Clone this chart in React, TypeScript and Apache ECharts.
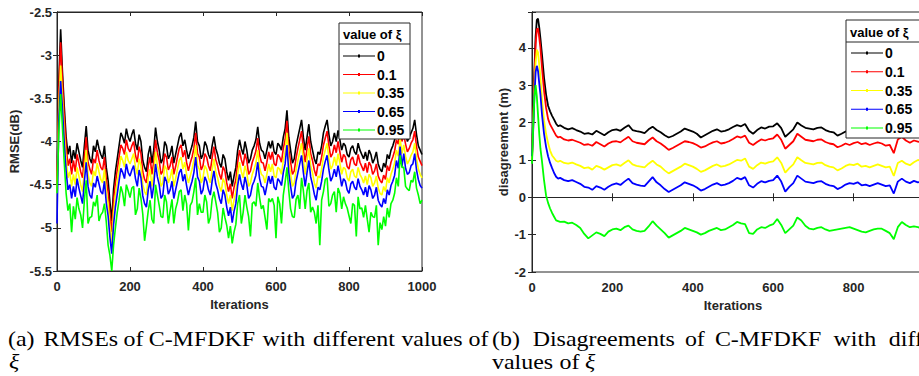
import React, { useEffect, useRef } from "react";
import * as echarts from "echarts";

// ---------- data ----------
const SERIES_NAMES = ["0", "0.1", "0.35", "0.65", "0.95"];
const COLORS = ["#000000", "#ff0000", "#ffff00", "#0000ff", "#00ff00"];

// (a) RMSE plot, sampled every 5 iterations (0 .. 1000)
const L_STEP = 5;
const RMSE_0 = [-4.5, -3.3, -2.7, -3.2, -3.6, -3.95, -4.15, -4.05, -4.25, -4.1, -4.2, -4.02, -4.12, -4.22, -4.3, -4.05, -3.82, -4.1, -4.2, -4.25, -4.05, -4.12, -3.98, -4.08, -4.15, -4.2, -4.05, -4.3, -4.45, -4.7, -4.92, -4.55, -4.35, -4.2, -4.05, -3.9, -3.95, -4.02, -3.85, -3.95, -4.0, -3.92, -3.86, -4.02, -4.1, -3.92, -4.0, -4.22, -4.3, -4.35, -4.15, -4.05, -4.25, -4.1, -3.84, -4.0, -4.1, -4.25, -4.2, -4.0, -4.05, -4.2, -4.15, -4.05, -4.25, -4.15, -4.05, -3.95, -3.9, -4.05, -3.98, -4.1, -4.2, -4.12, -4.05, -3.95, -3.77, -4.0, -4.05, -4.2, -4.15, -4.0, -4.05, -4.15, -4.2, -4.05, -3.94, -4.08, -4.15, -4.25, -4.3, -4.15, -4.2, -4.35, -4.45, -4.35, -4.52, -4.4, -4.3, -4.1, -3.98, -4.08, -4.15, -4.0, -4.1, -4.25, -4.2, -4.1, -4.05, -3.98, -3.83, -4.02, -4.1, -4.12, -4.2, -4.1, -4.0, -4.08, -3.99, -4.12, -4.15, -4.02, -4.05, -4.1, -3.95, -3.85, -3.64, -3.95, -4.1, -4.25, -4.2, -4.05, -3.95, -3.85, -3.75, -3.95, -4.1, -3.95, -3.8, -4.0, -4.1, -4.2, -4.26, -4.12, -4.15, -4.05, -3.9, -3.82, -3.75, -3.92, -4.05, -4.0, -3.9, -4.0, -3.87, -3.98, -4.1, -4.02, -4.05, -4.15, -4.18, -4.08, -4.05, -4.12, -4.15, -4.02, -4.1, -4.15, -4.2, -4.12, -4.22, -4.1, -4.15, -4.25, -4.2, -4.12, -4.26, -4.32, -4.35, -4.25, -4.3, -4.15, -4.2, -4.1, -4.05, -3.98, -3.85, -3.9, -3.75, -3.88, -3.8, -3.9, -4.0, -3.95, -3.9, -3.85, -3.75, -3.92, -4.05, -4.1, -4.15];
const RMSE_01 = [-4.55, -3.4, -2.85, -3.3, -3.72, -4.05, -4.28, -4.2, -4.38, -4.22, -4.35, -4.15, -4.25, -4.35, -4.42, -4.18, -3.95, -4.24, -4.32, -4.38, -4.2, -4.25, -4.1, -4.22, -4.3, -4.33, -4.18, -4.44, -4.58, -4.84, -5.05, -4.68, -4.48, -4.33, -4.18, -4.04, -4.08, -4.15, -3.98, -4.08, -4.12, -4.05, -4.0, -4.16, -4.24, -4.06, -4.14, -4.35, -4.44, -4.48, -4.28, -4.18, -4.38, -4.24, -3.98, -4.13, -4.22, -4.38, -4.34, -4.14, -4.18, -4.33, -4.28, -4.18, -4.38, -4.29, -4.18, -4.08, -4.04, -4.18, -4.1, -4.24, -4.34, -4.25, -4.18, -4.08, -3.9, -4.14, -4.18, -4.33, -4.28, -4.14, -4.18, -4.28, -4.34, -4.19, -4.06, -4.21, -4.28, -4.38, -4.44, -4.29, -4.34, -4.48, -4.58, -4.49, -4.66, -4.53, -4.44, -4.24, -4.1, -4.21, -4.28, -4.14, -4.22, -4.38, -4.34, -4.24, -4.18, -4.11, -3.96, -4.16, -4.24, -4.25, -4.34, -4.24, -4.12, -4.21, -4.12, -4.26, -4.28, -4.15, -4.18, -4.24, -4.08, -3.98, -3.76, -4.09, -4.24, -4.38, -4.34, -4.19, -4.08, -3.98, -3.88, -4.09, -4.24, -4.08, -3.94, -4.14, -4.22, -4.33, -4.4, -4.26, -4.28, -4.18, -4.04, -3.96, -3.88, -4.05, -4.18, -4.14, -4.04, -4.13, -4.0, -4.12, -4.24, -4.15, -4.18, -4.29, -4.32, -4.21, -4.18, -4.26, -4.28, -4.15, -4.24, -4.29, -4.34, -4.25, -4.36, -4.24, -4.28, -4.38, -4.34, -4.26, -4.4, -4.45, -4.48, -4.39, -4.44, -4.28, -4.34, -4.24, -4.18, -4.11, -3.98, -4.03, -3.86, -4.0, -3.92, -4.03, -4.12, -4.08, -4.02, -3.98, -3.88, -4.06, -4.18, -4.23, -4.28];
const RMSE_035 = [-4.6, -3.6, -3.12, -3.5, -3.9, -4.2, -4.42, -4.35, -4.52, -4.38, -4.5, -4.3, -4.4, -4.5, -4.58, -4.33, -4.1, -4.38, -4.48, -4.52, -4.34, -4.4, -4.25, -4.35, -4.44, -4.48, -4.32, -4.58, -4.72, -4.98, -5.18, -4.82, -4.62, -4.47, -4.32, -4.17, -4.22, -4.3, -4.12, -4.22, -4.26, -4.2, -4.14, -4.3, -4.38, -4.2, -4.28, -4.5, -4.58, -4.62, -4.42, -4.32, -4.52, -4.38, -4.12, -4.28, -4.36, -4.52, -4.48, -4.28, -4.32, -4.48, -4.42, -4.32, -4.52, -4.43, -4.32, -4.22, -4.18, -4.32, -4.24, -4.38, -4.48, -4.4, -4.32, -4.22, -4.04, -4.28, -4.32, -4.48, -4.42, -4.28, -4.32, -4.42, -4.48, -4.33, -4.2, -4.35, -4.42, -4.52, -4.58, -4.43, -4.48, -4.62, -4.72, -4.62, -4.8, -4.68, -4.58, -4.38, -4.24, -4.35, -4.42, -4.28, -4.36, -4.52, -4.48, -4.38, -4.32, -4.25, -4.1, -4.3, -4.38, -4.4, -4.48, -4.38, -4.26, -4.35, -4.26, -4.4, -4.42, -4.3, -4.32, -4.38, -4.22, -4.12, -3.9, -4.22, -4.38, -4.52, -4.48, -4.33, -4.22, -4.12, -4.02, -4.22, -4.38, -4.22, -4.08, -4.28, -4.36, -4.48, -4.54, -4.4, -4.42, -4.32, -4.18, -4.1, -4.02, -4.2, -4.32, -4.28, -4.18, -4.28, -4.14, -4.25, -4.38, -4.3, -4.32, -4.42, -4.46, -4.35, -4.32, -4.4, -4.42, -4.3, -4.38, -4.42, -4.48, -4.4, -4.5, -4.38, -4.42, -4.52, -4.48, -4.4, -4.54, -4.6, -4.62, -4.52, -4.58, -4.42, -4.48, -4.38, -4.32, -4.25, -4.1, -4.17, -3.96, -4.14, -4.04, -4.17, -4.26, -4.22, -4.16, -4.12, -4.02, -4.2, -4.32, -4.38, -4.42];
const RMSE_065 = [-4.95, -3.75, -3.3, -3.62, -4.02, -4.34, -4.56, -4.5, -4.66, -4.52, -4.64, -4.43, -4.54, -4.63, -4.72, -4.46, -4.24, -4.52, -4.62, -4.66, -4.48, -4.53, -4.4, -4.49, -4.58, -4.61, -4.46, -4.71, -4.86, -5.11, -5.3, -4.96, -4.76, -4.61, -4.46, -4.31, -4.36, -4.43, -4.26, -4.36, -4.4, -4.33, -4.28, -4.43, -4.52, -4.33, -4.42, -4.63, -4.72, -4.76, -4.56, -4.46, -4.66, -4.51, -4.26, -4.41, -4.5, -4.66, -4.62, -4.41, -4.46, -4.61, -4.56, -4.46, -4.66, -4.56, -4.46, -4.36, -4.32, -4.46, -4.38, -4.51, -4.62, -4.53, -4.46, -4.36, -4.18, -4.41, -4.46, -4.61, -4.56, -4.41, -4.46, -4.56, -4.62, -4.46, -4.34, -4.49, -4.56, -4.66, -4.72, -4.56, -4.62, -4.76, -4.86, -4.76, -4.94, -4.81, -4.72, -4.51, -4.38, -4.49, -4.56, -4.41, -4.5, -4.66, -4.62, -4.51, -4.46, -4.39, -4.24, -4.43, -4.52, -4.53, -4.62, -4.51, -4.4, -4.49, -4.4, -4.53, -4.56, -4.43, -4.46, -4.51, -4.36, -4.26, -4.04, -4.36, -4.52, -4.66, -4.62, -4.46, -4.36, -4.26, -4.16, -4.36, -4.52, -4.36, -4.22, -4.41, -4.5, -4.61, -4.68, -4.53, -4.56, -4.46, -4.32, -4.23, -4.16, -4.33, -4.46, -4.41, -4.32, -4.41, -4.28, -4.39, -4.52, -4.43, -4.46, -4.56, -4.6, -4.49, -4.46, -4.53, -4.56, -4.43, -4.52, -4.56, -4.62, -4.53, -4.64, -4.51, -4.56, -4.66, -4.62, -4.53, -4.68, -4.73, -4.76, -4.66, -4.72, -4.56, -4.62, -4.51, -4.46, -4.39, -4.22, -4.31, -4.06, -4.29, -4.14, -4.31, -4.38, -4.36, -4.28, -4.26, -4.14, -4.33, -4.44, -4.51, -4.54];
const RMSE_095 = [-4.6, -3.9, -3.45, -3.85, -4.25, -4.6, -4.8, -4.72, -5.05, -4.75, -4.9, -4.65, -4.78, -4.85, -5.0, -4.68, -4.45, -4.95, -4.88, -4.87, -4.7, -4.75, -4.62, -4.92, -4.85, -4.82, -4.72, -4.93, -5.2, -5.32, -5.5, -5.2, -5.0, -4.82, -4.68, -4.52, -4.6, -4.75, -4.5, -4.57, -4.65, -4.54, -4.52, -4.85, -4.78, -4.54, -4.66, -4.84, -5.15, -4.98, -4.8, -4.68, -4.9, -4.95, -4.5, -4.62, -4.74, -4.87, -4.88, -4.62, -4.7, -4.95, -4.8, -4.67, -4.95, -4.78, -4.7, -4.58, -4.56, -4.8, -4.62, -4.72, -5.03, -4.74, -4.7, -4.58, -4.42, -4.85, -4.72, -4.82, -4.82, -4.62, -4.7, -4.95, -4.88, -4.67, -4.58, -4.7, -4.82, -5.05, -5.0, -4.77, -4.88, -4.97, -5.12, -4.98, -5.18, -5.05, -4.96, -4.72, -4.62, -4.95, -4.82, -4.62, -4.76, -4.87, -5.1, -4.72, -4.7, -4.75, -4.48, -4.65, -4.78, -4.74, -4.88, -5.02, -4.66, -4.7, -4.66, -4.74, -5.12, -4.64, -4.72, -4.95, -4.62, -4.47, -4.3, -4.57, -4.78, -4.87, -4.88, -4.67, -4.62, -4.78, -4.42, -4.57, -4.78, -4.57, -4.48, -4.82, -4.76, -4.82, -4.95, -4.74, -5.2, -4.68, -4.58, -4.44, -4.42, -4.75, -4.72, -4.62, -4.58, -4.82, -4.54, -4.6, -4.78, -4.64, -4.72, -4.77, -4.86, -4.95, -4.72, -4.74, -5.1, -4.64, -4.78, -4.77, -4.88, -4.74, -4.9, -5.05, -4.82, -4.87, -4.88, -4.74, -5.2, -4.94, -5.02, -4.87, -4.98, -4.77, -4.88, -4.72, -4.68, -4.6, -4.42, -4.52, -4.16, -4.3, -4.3, -4.52, -4.55, -4.57, -4.45, -4.47, -4.35, -4.54, -4.62, -4.72, -4.68];

// (b) disagreement plot
const R_IT = [0, 3, 6, 9, 12, 15, 18, 21, 25, 30, 35, 40, 45, 50, 55, 60, 65, 70, 80, 90, 100, 110, 120, 130, 140, 150, 160, 170, 180, 190, 200, 210, 220, 230, 240, 250, 260, 270, 280, 290, 300, 310, 320, 330, 340, 350, 360, 370, 380, 390, 400, 410, 420, 430, 440, 450, 460, 470, 480, 490, 500, 510, 520, 530, 540, 550, 560, 570, 580, 590, 600, 610, 620, 630, 640, 650, 660, 670, 680, 690, 700, 710, 720, 730, 740, 750, 760, 770, 780, 790, 800, 810, 820, 830, 840, 850, 860, 870, 880, 890, 900, 910, 920, 930, 940, 950, 960, 970, 980, 990, 1000];
const DIS_0 = [1.1, 2.2, 3.4, 4.3, 4.75, 4.78, 4.55, 4.25, 3.8, 3.2, 2.75, 2.45, 2.3, 2.18, 2.08, 1.97, 1.9, 1.93, 1.86, 1.82, 1.85, 1.8, 1.76, 1.7, 1.72, 1.68, 1.78, 1.72, 1.66, 1.74, 1.8, 1.82, 1.78, 1.86, 1.93, 1.8, 1.77, 1.75, 1.72, 1.82, 1.89, 1.8, 1.74, 1.66, 1.6, 1.64, 1.7, 1.76, 1.84, 1.8, 1.76, 1.7, 1.6, 1.66, 1.72, 1.78, 1.82, 1.76, 1.78, 1.82, 1.88, 1.93, 1.9, 1.96, 1.78, 1.7, 1.8, 1.87, 1.84, 1.89, 1.9, 1.98, 1.85, 1.62, 1.72, 1.82, 2.0, 1.92, 1.86, 1.84, 1.82, 1.86, 1.87, 1.8, 1.76, 1.74, 1.65, 1.7, 1.76, 1.8, 1.78, 1.82, 1.76, 1.8, 1.75, 1.78, 1.82, 1.76, 1.72, 1.74, 1.6, 1.82, 1.86, 1.8, 1.76, 1.84, 1.8, 1.78, 1.82, 1.76, 1.8];
const DIS_01 = [1.0, 2.0, 3.2, 4.1, 4.5, 4.52, 4.28, 4.0, 3.45, 2.85, 2.4, 2.1, 1.95, 1.85, 1.75, 1.65, 1.6, 1.62, 1.55, 1.52, 1.54, 1.5, 1.46, 1.4, 1.42, 1.38, 1.48, 1.42, 1.36, 1.44, 1.49, 1.5, 1.47, 1.55, 1.62, 1.5, 1.46, 1.44, 1.42, 1.52, 1.6, 1.5, 1.44, 1.36, 1.27, 1.32, 1.38, 1.44, 1.5, 1.48, 1.45, 1.4, 1.33, 1.36, 1.42, 1.47, 1.5, 1.44, 1.46, 1.5, 1.56, 1.63, 1.6, 1.65, 1.46, 1.4, 1.48, 1.55, 1.52, 1.56, 1.58, 1.68, 1.54, 1.3, 1.4, 1.5, 1.7, 1.62, 1.54, 1.52, 1.5, 1.54, 1.55, 1.48, 1.44, 1.42, 1.34, 1.38, 1.44, 1.4, 1.45, 1.48, 1.42, 1.45, 1.4, 1.44, 1.47, 1.44, 1.38, 1.4, 1.18, 1.55, 1.62, 1.52, 1.46, 1.52, 1.49, 1.46, 1.5, 1.45, 1.48];
const DIS_035 = [1.0, 1.9, 2.9, 3.6, 3.95, 3.88, 3.55, 3.2, 2.6, 2.05, 1.7, 1.45, 1.25, 1.12, 1.05, 0.98, 0.95, 0.98, 0.92, 0.9, 0.93, 0.88, 0.84, 0.78, 0.8, 0.74, 0.84, 0.8, 0.74, 0.8, 0.86, 0.88, 0.84, 0.92, 0.99, 0.88, 0.84, 0.82, 0.8, 0.9, 0.98, 0.88, 0.82, 0.72, 0.64, 0.7, 0.76, 0.82, 0.9, 0.86, 0.82, 0.76, 0.68, 0.72, 0.78, 0.84, 0.88, 0.82, 0.84, 0.88, 0.94, 1.0, 0.98, 1.04, 0.82, 0.76, 0.86, 0.93, 0.9, 0.94, 0.96, 1.07, 0.92, 0.66, 0.78, 0.88, 1.07, 0.99, 0.92, 0.9, 0.88, 0.92, 0.93, 0.86, 0.82, 0.8, 0.72, 0.77, 0.84, 0.88, 0.86, 0.9, 0.82, 0.84, 0.8, 0.84, 0.88, 0.84, 0.8, 0.82, 0.57, 0.92, 0.98, 0.9, 0.86, 0.94, 1.0, 0.96, 1.04, 0.98, 1.0];
const DIS_065 = [1.1, 1.8, 2.7, 3.35, 3.52, 3.38, 3.05, 2.75, 2.2, 1.7, 1.35, 1.1, 0.92, 0.78, 0.65, 0.55, 0.5, 0.52, 0.46, 0.43, 0.46, 0.41, 0.36, 0.28, 0.26, 0.2, 0.3, 0.26, 0.2, 0.28, 0.34, 0.37, 0.33, 0.42, 0.5, 0.38, 0.34, 0.31, 0.3, 0.42, 0.54, 0.4, 0.32, 0.22, 0.14, 0.2, 0.26, 0.32, 0.4, 0.36, 0.32, 0.26, 0.18, 0.22, 0.28, 0.34, 0.38, 0.32, 0.34, 0.38, 0.44, 0.52, 0.48, 0.54, 0.32, 0.26, 0.36, 0.43, 0.4, 0.44, 0.46, 0.58, 0.42, 0.15, 0.28, 0.38, 0.58, 0.5, 0.42, 0.4, 0.38, 0.42, 0.43, 0.36, 0.32, 0.3, 0.22, 0.27, 0.34, 0.38, 0.36, 0.4, 0.32, 0.34, 0.3, 0.34, 0.38, 0.34, 0.3, 0.32, 0.1, 0.42, 0.5, 0.42, 0.38, 0.44, 0.4, 0.42, 0.46, 0.4, 0.42];
const DIS_095 = [0.9, 1.9, 2.7, 3.0, 2.7, 2.2, 1.7, 1.3, 0.95, 0.45, 0.05, -0.15, -0.3, -0.42, -0.52, -0.62, -0.64, -0.66, -0.65, -0.7, -0.68, -0.74, -0.82, -0.98, -1.1, -1.02, -0.94, -0.98, -1.04, -0.92, -0.86, -0.84, -0.88, -0.8, -0.76, -0.86, -0.9, -0.92, -0.9, -0.78, -0.64, -0.76, -0.86, -0.96, -1.08, -1.02, -0.96, -0.9, -0.82, -0.86, -0.9, -0.94, -1.0, -0.96, -0.9, -0.86, -0.82, -0.88, -0.86, -0.8, -0.74, -0.66, -0.7, -0.72, -0.96, -0.98, -0.86, -0.8, -0.82, -0.76, -0.72, -0.58, -0.74, -0.96, -0.86, -0.76, -0.54, -0.62, -0.76, -0.84, -0.86, -0.82, -0.8, -0.86, -0.9, -0.88, -0.86, -0.84, -0.82, -0.8, -0.84, -0.88, -0.92, -0.94, -0.9, -0.86, -0.84, -0.84, -0.9, -0.96, -1.12, -0.8, -0.66, -0.74, -0.8, -0.78, -0.8, -0.84, -0.76, -0.8, -0.78];

const LEFT_TICKS = { min: -5.5, max: -2.5, step: 0.5 };
const RIGHT_TICKS = { min: -2, max: 4.96, step: 1 };
const ITER_TICKS = { min: 0, max: 1000, step: 200 };

// caption words (text) with their horizontal start positions (layout)
const CAPTION_A_LINE1 = ["(a)", "RMSEs", "of", "C-MFDKF", "with", "different", "values", "of"];
const CAPTION_A_LINE1_X = [8, 43.6, 123.5, 148.7, 262.6, 312.9, 401.4, 468.5];
const CAPTION_A_LINE2 = ["ξ"];
const CAPTION_A_LINE2_X = [9];
const CAPTION_B_LINE1 = ["(b)", "Disagreements", "of", "C-MFDKF", "with", "different"];
const CAPTION_B_LINE1_X = [492, 532.7, 684.9, 714.9, 833.6, 888.8];
const CAPTION_B_LINE2 = ["values", "of", "ξ"];
const CAPTION_B_LINE2_X = [492, 559.5, 585];
const LEGEND_TITLE = "value of ξ";

const AX = "#262626";
const FONT = "Liberation Sans, Arial, sans-serif";
const SERIF = "Liberation Serif, Times New Roman, serif";

function mkSeries(name: string, color: string, data: number[][], idx: number, width: number) {
  return {
    type: "line",
    name,
    xAxisIndex: idx * 2,
    yAxisIndex: idx * 2,
    data,
    showSymbol: false,
    symbol: "none",
    lineStyle: { color, width },
    itemStyle: { color },
    clip: true,
    z: 2,
  };
}

function axisPair(gridIndex: number, cfg: any, isX: boolean, name: string, nameGap: number, labelMargin: number, showMax = true) {
  const main: any = {
    type: "value",
    gridIndex,
    min: cfg.min,
    max: cfg.max,
    interval: cfg.step,
    position: isX ? "bottom" : "left",
    axisLine: { show: true, lineStyle: { color: AX, width: 1 } },
    axisTick: { show: true, inside: true, length: 4, lineStyle: { color: AX } },
    axisLabel: {
      color: AX,
      fontFamily: FONT,
      fontWeight: "bold",
      fontSize: 13,
      margin: labelMargin,
      showMaxLabel: showMax,
      formatter: (v: number) => (Math.abs(v / cfg.step - Math.round(v / cfg.step)) < 1e-6 ? String(v) : ""),
    },
    splitLine: { show: false },
    name,
    nameLocation: "middle",
    nameGap,
    nameTextStyle: { color: AX, fontFamily: FONT, fontWeight: "bold", fontSize: 13 },
  };
  const second: any = {
    type: "value",
    gridIndex,
    min: cfg.min,
    max: cfg.max,
    interval: cfg.step,
    position: isX ? "top" : "right",
    axisLine: { show: true, lineStyle: { color: AX, width: 1 } },
    axisTick: { show: true, inside: true, length: 4, lineStyle: { color: AX } },
    axisLabel: { show: false },
    splitLine: { show: false },
  };
  return [main, second];
}

function legendBlock(x: number, y: number, w: number, h: number, titleH: number) {
  return [
    {
      type: "rect",
      z: 50,
      shape: { x, y, width: w, height: h },
      style: { fill: "#ffffff", stroke: AX, lineWidth: 1 },
    },
    {
      type: "line",
      z: 51,
      shape: { x1: x, y1: y + titleH, x2: x + w, y2: y + titleH },
      style: { stroke: AX, lineWidth: 1 },
    },
    {
      type: "text",
      z: 51,
      x: x + 4,
      y: y + titleH / 2 + 1,
      style: {
        text: LEGEND_TITLE,
        fill: "#000",
        font: `bold 13px ${FONT}`,
        verticalAlign: "middle",
      },
    },
  ];
}

function captionWords(words: string[], xs: number[], y: number) {
  return words.map((w, i) => ({
    type: "text",
    x: xs[i],
    y,
    scaleX: 1.14,
    style: {
      text: w,
      fill: "#000",
      font: `${w === "ξ" ? "italic " : ""}21px ${SERIF}`,
      verticalAlign: "middle",
    },
  }));
}

const LEG_ICON = "path://M0,4.4h32v1.2h-32z M15,3.5h2v3h-2z";

export default function App() {
  const ref = useRef<HTMLDivElement>(null);
  useEffect(() => {
    if (!ref.current) return;
    const chart = echarts.init(ref.current, undefined, { renderer: "svg" });
    const [lx, lx2] = axisPair(0, ITER_TICKS, true, "Iterations", 27, 9);
    const [ly, ly2] = axisPair(0, LEFT_TICKS, false, "RMSE(dB)", 36, 5);
    const [rx, rx2] = axisPair(1, ITER_TICKS, true, "Iterations", 27, 9, false);
    const [ry, ry2] = axisPair(1, RIGHT_TICKS, false, "disagreement (m)", 22, 6);
    const leftVals = [RMSE_0, RMSE_01, RMSE_035, RMSE_065, RMSE_095];
    const rightVals = [DIS_0, DIS_01, DIS_035, DIS_065, DIS_095];
    const series: any[] = [];
    SERIES_NAMES.forEach((n, i) =>
      series.push(mkSeries(n, COLORS[i], leftVals[i].map((v, k) => [k * L_STEP, v]), 0, 1.6))
    );
    SERIES_NAMES.forEach((n, i) =>
      series.push(mkSeries(n, COLORS[i], rightVals[i].map((v, k) => [R_IT[k], v]), 1, 1.8))
    );

    const legendCommon = {
      orient: "vertical",
      icon: LEG_ICON,
      itemWidth: 32,
      itemHeight: 10,
      padding: 0,
      selectedMode: false,
      z: 60,
      textStyle: { color: "#000", fontFamily: FONT, fontWeight: "bold", fontSize: 14, lineHeight: 14, height: 14, padding: [0, 0, 0, -3] },
      data: SERIES_NAMES.map((n, i) => ({ name: n, itemStyle: { color: COLORS[i] } })),
    };

    chart.setOption({
      animation: false,
      backgroundColor: "#ffffff",
      grid: [
        { left: 57, top: 12, width: 365, height: 259, show: true, borderColor: AX, borderWidth: 1 },
        { left: 532, top: 12, width: 402, height: 260, show: true, borderColor: AX, borderWidth: 1 },
      ],
      xAxis: [lx, lx2, rx, rx2],
      yAxis: [ly, ly2, ry, ry2],
      legend: [
        { ...legendCommon, left: 343, top: 49, itemGap: 4.5 },
        { ...legendCommon, left: 851, top: 46, itemGap: 4.75 },
      ],
      series,
      graphic: [
        ...legendBlock(339, 23, 71, 116, 21),
        ...legendBlock(846, 20, 80, 118, 22),
        ...captionWords(CAPTION_A_LINE1, CAPTION_A_LINE1_X, 339),
        ...captionWords(CAPTION_A_LINE2, CAPTION_A_LINE2_X, 362),
        ...captionWords(CAPTION_B_LINE1, CAPTION_B_LINE1_X, 339),
        ...captionWords(CAPTION_B_LINE2, CAPTION_B_LINE2_X, 362),
      ],
    });
    return () => chart.dispose();
  }, []);
  return (
    <div style={{ position: "fixed", left: 0, top: 0, width: 919, height: 376, overflow: "hidden", background: "#fff" }}>
      <div ref={ref} style={{ width: 980, height: 376 }} />
    </div>
  );
}
